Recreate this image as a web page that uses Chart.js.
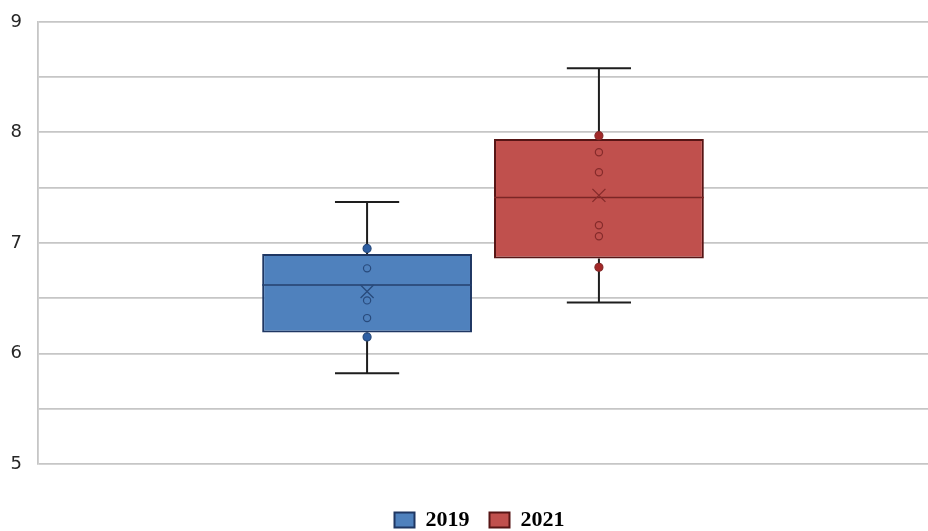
<!DOCTYPE html>
<html><head><meta charset="utf-8">
<script src="https://cdn.jsdelivr.net/npm/chart.js@4.4.1/dist/chart.umd.min.js"></script>
<style>html,body{margin:0;padding:0;background:#fff;}canvas{display:block;}</style>
</head><body>
<canvas id="c" width="928" height="531"></canvas>
<script>
// ---- data ----
const categories = ['2019', '2021'];
const q1Values = [6.19, 6.86];
const q3Values = [6.90, 7.94];
const medianValues = [6.62, 7.41];
const minValues = [5.82, 6.46];
const maxValues = [7.37, 8.58];
const meanValues = [6.56, 7.43];
const hollowPoints2019 = [6.77, 6.48, 6.32];
const filledPoints2019 = [6.95, 6.15];
const hollowPoints2021 = [7.82, 7.64, 7.16, 7.06];
const filledPoints2021 = [7.97, 6.78];
const hollowPoints = [hollowPoints2019, hollowPoints2021];
const filledPoints = [filledPoints2019, filledPoints2021];
const yTickValues = [5, 6, 7, 8, 9];

// ---- styles ----
const fillColors = ['#4F81BD', '#C0504D'];
const borderColors = ['#1F3763', '#571515'];
const medianColors = ['#24406E', '#7B2626'];
const markerColors = ['#284A7C', '#852B2B'];
const dotColors = ['#2E5FA3', '#A32828'];

const boxExtras = {
  id: 'boxExtras',
  afterLayout(chart) {
    const l = chart.legend;
    l.top += 25; l.bottom += 25;
    l.left += 31;
  },
  beforeDatasetsDraw(chart) {
    const ctx = chart.ctx, ys = chart.scales.y;
    ctx.save();
    ctx.strokeStyle = '#1e1e1e';
    ctx.lineWidth = 2;
    categories.forEach((c, i) => {
      const bar = chart.getDatasetMeta(i).data[0];
      const x = bar.x, hw = bar.width * 0.153;
      const yMax = ys.getPixelForValue(maxValues[i]);
      const yMin = ys.getPixelForValue(minValues[i]);
      ctx.beginPath();
      ctx.moveTo(x, ys.getPixelForValue(q3Values[i])); ctx.lineTo(x, yMax);
      ctx.moveTo(x - hw, yMax); ctx.lineTo(x + hw, yMax);
      ctx.moveTo(x, ys.getPixelForValue(q1Values[i])); ctx.lineTo(x, yMin);
      ctx.moveTo(x - hw, yMin); ctx.lineTo(x + hw, yMin);
      ctx.stroke();
    });
    ctx.restore();
  },
  afterDatasetsDraw(chart) {
    const ctx = chart.ctx, ys = chart.scales.y;
    ctx.save();
    categories.forEach((c, i) => {
      const bar = chart.getDatasetMeta(i).data[0];
      const x = bar.x, w = bar.width;
      // median
      const ym = ys.getPixelForValue(medianValues[i]);
      ctx.strokeStyle = medianColors[i];
      ctx.lineWidth = 1.5;
      ctx.beginPath();
      ctx.moveTo(x - w / 2, ym); ctx.lineTo(x + w / 2, ym);
      ctx.stroke();
      // mean marker
      const ya = ys.getPixelForValue(meanValues[i]);
      const s = 6.5;
      ctx.strokeStyle = markerColors[i];
      ctx.lineWidth = 1.3;
      ctx.beginPath();
      ctx.moveTo(x - s, ya - s); ctx.lineTo(x + s, ya + s);
      ctx.moveTo(x + s, ya - s); ctx.lineTo(x - s, ya + s);
      ctx.stroke();
      // hollow points
      ctx.lineWidth = 1.2;
      hollowPoints[i].forEach(v => {
        ctx.beginPath();
        ctx.arc(x, ys.getPixelForValue(v), 3.6, 0, Math.PI * 2);
        ctx.stroke();
      });
      // filled points
      ctx.fillStyle = dotColors[i];
      filledPoints[i].forEach(v => {
        ctx.beginPath();
        ctx.arc(x, ys.getPixelForValue(v), 4, 0, Math.PI * 2);
        ctx.fill();
        ctx.stroke();
      });
    });
    ctx.restore();
  }
};

new Chart(document.getElementById('c'), {
  type: 'bar',
  data: {
    labels: [''],
    datasets: categories.map((c, i) => ({
      label: c,
      data: [[q1Values[i], q3Values[i]]],
      backgroundColor: fillColors[i],
      borderColor: borderColors[i],
      borderWidth: 2,
      borderSkipped: false,
      categoryPercentage: 0.521,
      barPercentage: 0.905
    }))
  },
  options: {
    responsive: false,
    animation: false,
    devicePixelRatio: 1,
    layout: { padding: { top: 10, bottom: 15, left: 0, right: 0 } },
    plugins: {
      tooltip: { enabled: false },
      legend: {
        position: 'bottom',
        labels: {
          boxWidth: 20, boxHeight: 15, padding: 20,
          color: '#000',
          font: { family: 'Liberation Serif', weight: 'bold', size: 22 }
        }
      }
    },
    scales: {
      x: { display: false },
      y: {
        min: 5, max: 9,
        ticks: {
          stepSize: 0.5,
          color: '#262626',
          padding: 16,
          font: { family: 'DejaVu Sans', size: 18, lineHeight: 0.65 },
          callback: v => yTickValues.includes(v) ? String(v) : ''
        },
        grid: { color: '#c6c6c6', lineWidth: 1.8, drawTicks: false },
        border: { color: '#c6c6c6', width: 1.8 },
        afterFit: s => { s.width = 38; }
      }
    }
  },
  plugins: [boxExtras]
});
</script>
</body></html>
